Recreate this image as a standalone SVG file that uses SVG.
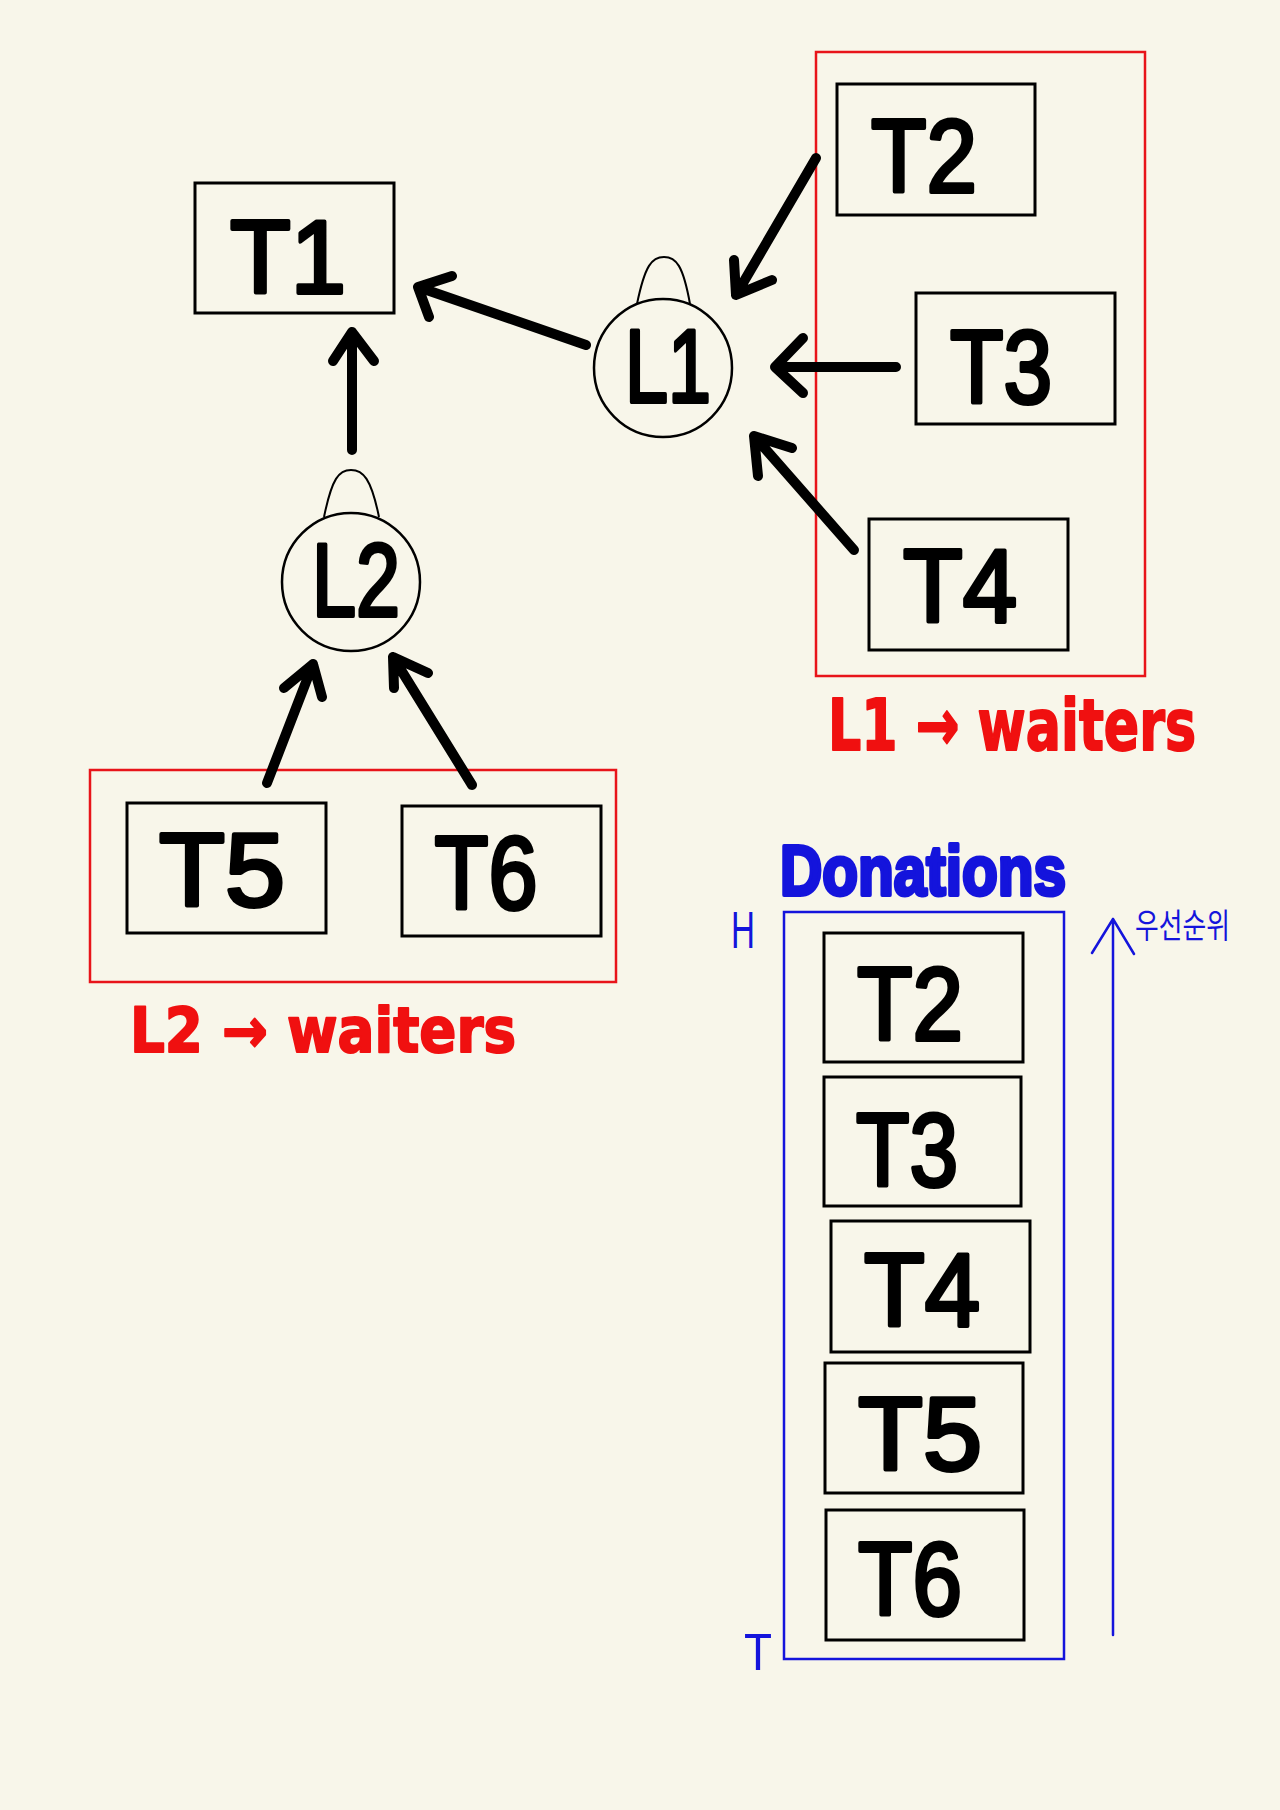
<svg xmlns="http://www.w3.org/2000/svg" width="1280" height="1810" viewBox="0 0 1280 1810">
<style>
.box{fill:none;stroke:#000;stroke-width:3}
.lock{fill:none;stroke:#000;stroke-width:2.5}
.ear{fill:none;stroke:#000;stroke-width:2}
.lbl{font-family:"Liberation Sans",Arial,sans-serif;font-weight:400;font-size:104px;fill:#000;text-anchor:middle;stroke:#000;stroke-width:4;stroke-linejoin:round;stroke-linecap:round}
.grp{fill:none;stroke:#e8141a;stroke-width:2.5}
.red{font-family:"DejaVu Sans",sans-serif;font-weight:700;fill:#f01010;stroke:#f01010;stroke-width:2;stroke-linejoin:round}
.blue{fill:none;stroke:#1414dc;stroke-width:2.5}
.bluet{font-family:"Liberation Sans",Arial,sans-serif;fill:#1414dc}
.arr{fill:none;stroke:#000;stroke-width:10;stroke-linecap:round;stroke-linejoin:round}
</style>
<rect width="1280" height="1810" fill="#f8f6ea"/>

<g id="T1"><rect class="box" x="195" y="183" width="199" height="130"/><text class="lbl" x="288" y="293" textLength="116" lengthAdjust="spacingAndGlyphs">T1</text></g>

<g id="L1-waiters-group"><rect class="grp" x="816" y="52" width="329" height="624"/>
<text class="red" x="828" y="750" font-size="72" textLength="368" lengthAdjust="spacingAndGlyphs">L1 → waiters</text></g>
<g id="T2"><rect class="box" x="837" y="84" width="198" height="131"/><text class="lbl" x="924" y="192" textLength="106" lengthAdjust="spacingAndGlyphs">T2</text></g>
<g id="T3"><rect class="box" x="916" y="293" width="199" height="131"/><text class="lbl" x="1001" y="403" textLength="102" lengthAdjust="spacingAndGlyphs">T3</text></g>
<g id="T4"><rect class="box" x="869" y="519" width="199" height="131"/><text class="lbl" x="960" y="622" font-size="100" textLength="114" lengthAdjust="spacingAndGlyphs">T4</text></g>

<g id="L1"><circle class="lock" cx="663" cy="368" r="69"/><path class="ear" d="M637,304 C645,265 652,257 664,257 C676,257 683,265 690,304"/><text class="lbl" x="668" y="402" font-size="90" textLength="86" lengthAdjust="spacingAndGlyphs">L1</text></g>
<g id="L2"><circle class="lock" cx="351" cy="582" r="69"/><path class="ear" d="M324,517 C332,478 339,470 351,470 C363,470 371,478 379,517"/><text class="lbl" x="356" y="616" font-size="90" textLength="88" lengthAdjust="spacingAndGlyphs">L2</text></g>

<g id="L2-waiters-group"><rect class="grp" x="90" y="770" width="526" height="212"/>
<text class="red" x="130" y="1052" font-size="62" textLength="386" lengthAdjust="spacingAndGlyphs">L2 → waiters</text></g>
<g id="T5"><rect class="box" x="127" y="803" width="199" height="130"/><text class="lbl" x="222" y="906" textLength="126" lengthAdjust="spacingAndGlyphs">T5</text></g>
<g id="T6"><rect class="box" x="402" y="806" width="199" height="130"/><text class="lbl" x="486" y="909" textLength="103" lengthAdjust="spacingAndGlyphs">T6</text></g>

<g id="donations">
<text class="bluet" x="780" y="895" font-size="70" font-weight="700" stroke="#1414dc" stroke-width="4" stroke-linejoin="round" textLength="286" lengthAdjust="spacingAndGlyphs">Donations</text>
<rect class="blue" x="784" y="912" width="280" height="747"/>
<text class="bluet" x="731" y="948" font-size="52" textLength="24" lengthAdjust="spacingAndGlyphs">H</text>
<text class="bluet" x="744" y="1670" font-size="52" textLength="28" lengthAdjust="spacingAndGlyphs">T</text>
<path d="M1113,1635 L1113,919 M1092,953 L1113,919 L1134,954" fill="none" stroke="#1414dc" stroke-width="2.5" stroke-linecap="round" stroke-linejoin="round"/>
<text x="1135" y="938" font-family="'Noto Sans CJK KR',sans-serif" font-size="34" fill="#1414dc" textLength="95" lengthAdjust="spacingAndGlyphs">우선순위</text>
</g>
<g id="D-T2"><rect class="box" x="824" y="933" width="199" height="129"/><text class="lbl" x="910" y="1040" textLength="106" lengthAdjust="spacingAndGlyphs">T2</text></g>
<g id="D-T3"><rect class="box" x="824" y="1077" width="197" height="129"/><text class="lbl" x="907" y="1186" textLength="102" lengthAdjust="spacingAndGlyphs">T3</text></g>
<g id="D-T4"><rect class="box" x="831" y="1221" width="199" height="131"/><text class="lbl" x="922" y="1326" textLength="116" lengthAdjust="spacingAndGlyphs">T4</text></g>
<g id="D-T5"><rect class="box" x="825" y="1363" width="198" height="130"/><text class="lbl" x="920" y="1470" textLength="124" lengthAdjust="spacingAndGlyphs">T5</text></g>
<g id="D-T6"><rect class="box" x="826" y="1510" width="198" height="130"/><text class="lbl" x="910" y="1615" textLength="104" lengthAdjust="spacingAndGlyphs">T6</text></g>

<g id="connectors">
<path class="arr" d="M586,345 L418,287 M452,276 L418,287 L429,317"/>
<path class="arr" d="M816,158 L736,295 M772,280 L736,295 L734,260"/>
<path class="arr" d="M896,367 L775,367 M803,338 L775,367 L803,393"/>
<path class="arr" d="M854,550 L754,436 M792,448 L754,436 L758,476"/>
<path class="arr" d="M352,450 L352,332 M333,361 L352,332 L374,361"/>
<path class="arr" d="M267,783 L313,664 M284,688 L313,664 L322,697"/>
<path class="arr" d="M472,785 L393,657 M428,673 L393,657 L394,688"/>
</g>
</svg>
